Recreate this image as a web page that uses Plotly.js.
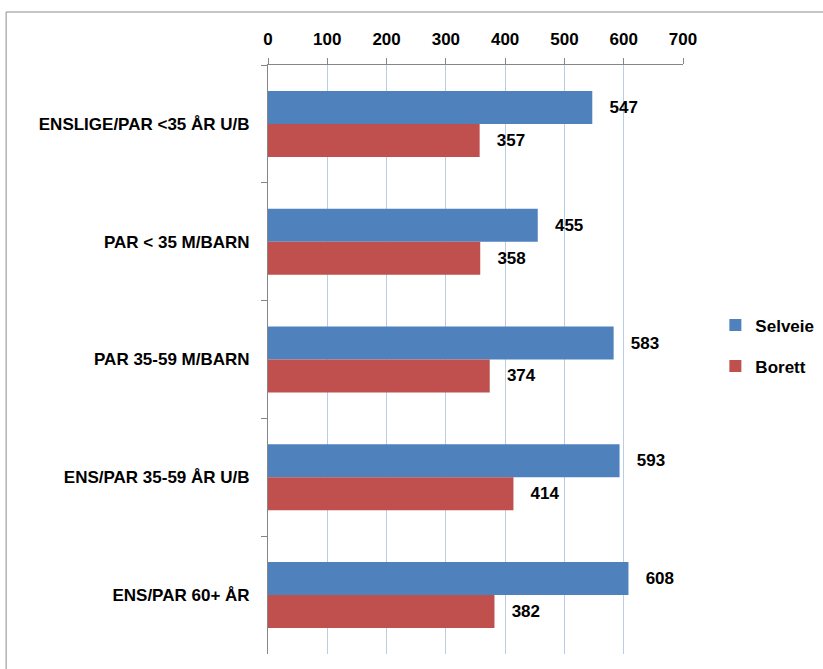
<!DOCTYPE html>
<html><head><meta charset="utf-8">
<script src="https://cdn.plot.ly/plotly-3.0.1.min.js"></script>
<style>body{margin:0;background:#fff}#c{width:823px;height:669px}</style>
</head><body><div id="c"></div>
<script>
const categories = ["ENSLIGE/PAR <35 ÅR U/B", "PAR < 35 M/BARN", "PAR 35-59 M/BARN", "ENS/PAR 35-59 ÅR U/B", "ENS/PAR 60+ ÅR"];
const selveie = [547, 455, 583, 593, 608];
const borett = [357, 358, 374, 414, 382];
const seriesNames = ["Selveie", "Borett"];
const tickVals = [0, 100, 200, 300, 400, 500, 600, 700];

const F = "Liberation Sans, Arial, sans-serif";
function tr(name, vals, color) {
  return {
    type: "bar", orientation: "h", name: name, legendgroup: name, y: categories, x: vals,
    marker: {color: color},
    texttemplate: "   %{x}", textposition: "outside",
    textfont: {family: F, size: 17, color: "#000", weight: "bold"},
    cliponaxis: false
  };
}
const data = [tr(seriesNames[0], selveie, "#4f81bd"), tr(seriesNames[1], borett, "#c0504d")];
const layout = {
  width: 823, height: 669,
  margin: {l: 268, r: 140, t: 65, b: 15, autoexpand: false},
  paper_bgcolor: "#fff", plot_bgcolor: "#fff",
  barmode: "group", bargap: 0.44, bargroupgap: 0,
  showlegend: true,
  legend: {x: 1.078, y: 0.523, yanchor: "middle", xanchor: "left", traceorder: "grouped",
           bgcolor: "rgba(0,0,0,0)",
           font: {family: F, size: 17, color: "#000", weight: "bold"}, itemwidth: 30, tracegroupgap: 16},
  xaxis: {side: "top", range: [0, 700], tickvals: tickVals, ticktext: tickVals.map(String),
          showgrid: true, gridcolor: "#b9cde5", gridwidth: 1, zeroline: false,
          showline: true, linecolor: "#868686", linewidth: 1,
          ticks: "outside", ticklen: 6, tickcolor: "#868686", ticklabelstandoff: 6,
          tickfont: {family: F, size: 17, color: "#000", weight: "bold"}, fixedrange: true},
  yaxis: {autorange: "reversed", type: "category",
          showline: true, linecolor: "#868686", linewidth: 1,
          ticks: "outside", ticklen: 6, tickcolor: "#868686", tickson: "boundaries",
          showgrid: false, ticklabelstandoff: 14,
          tickfont: {family: F, size: 17, color: "#000", weight: "bold"}, fixedrange: true},
  shapes: [{type: "rect", xref: "paper", yref: "paper", x0: -0.631, x1: 1.36, y0: -0.05, y1: 1.09,
            line: {color: "#8c8c8c", width: 1}, layer: "below"}]
};
Plotly.newPlot("c", data, layout, {displayModeBar: false, staticPlot: true});
</script></body></html>
